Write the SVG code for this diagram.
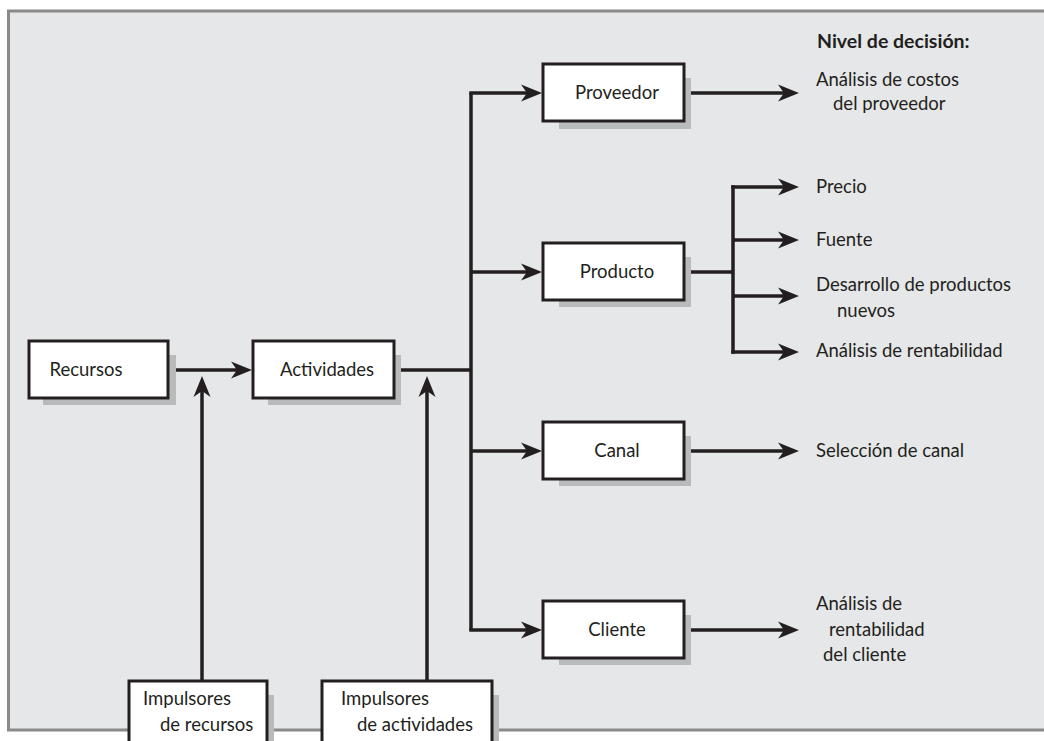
<svg xmlns="http://www.w3.org/2000/svg" width="1044" height="741" viewBox="0 0 1044 741">
<defs>
<style>
.bg{fill:#e6e7e8;stroke:#8a8a8a;stroke-width:3}
.box{fill:#ffffff;stroke:#231f20;stroke-width:3}
.sh{fill:#b9babc}
.ln{fill:none;stroke:#231f20;stroke-width:3.5;stroke-linecap:butt;stroke-linejoin:miter}
.t{font-family:Lato,"Open Sans","Liberation Sans",sans-serif;font-size:18.5px;fill:#231f20}
.c{text-anchor:middle}
.b{font-weight:bold;font-size:19.5px}
</style>
<marker id="ah" markerUnits="userSpaceOnUse" markerWidth="24" markerHeight="20" viewBox="0 -10 24 20" refX="11" refY="0" orient="auto">
<path d="M0,-8.5 L21,0 L0,8.5 L6,0 Z" fill="#231f20"/>
</marker>
</defs>
<rect class="bg" x="8.5" y="11" width="1050" height="719"/>

<g id="connectors">
<path class="ln" d="M168,370 H242" marker-end="url(#ah)"/>
<path class="ln" d="M394,370 H471"/>
<path class="ln" d="M202,681 V386" marker-end="url(#ah)"/>
<path class="ln" d="M427,681 V386" marker-end="url(#ah)"/>
<path class="ln" d="M471,93 V630"/>
<path class="ln" d="M469.25,93 H532" marker-end="url(#ah)"/>
<path class="ln" d="M471,272 H532" marker-end="url(#ah)"/>
<path class="ln" d="M471,451 H532" marker-end="url(#ah)"/>
<path class="ln" d="M469.25,630 H532" marker-end="url(#ah)"/>
<path class="ln" d="M684,93 H789" marker-end="url(#ah)"/>
<path class="ln" d="M684,272 H733"/>
<path class="ln" d="M733,185.25 V353.75"/>
<path class="ln" d="M731.25,187 H789" marker-end="url(#ah)"/>
<path class="ln" d="M733,240 H789" marker-end="url(#ah)"/>
<path class="ln" d="M733,296 H789" marker-end="url(#ah)"/>
<path class="ln" d="M731.25,352 H789" marker-end="url(#ah)"/>
<path class="ln" d="M684,451 H789" marker-end="url(#ah)"/>
<path class="ln" d="M684,630 H789" marker-end="url(#ah)"/>
</g>

<g id="recursos">
<rect class="sh" x="43" y="355" width="133" height="50"/>
<rect class="box" x="29" y="341" width="139" height="57"/>
<text class="t c" x="86" y="376">Recursos</text>
</g>
<g id="actividades">
<rect class="sh" x="268" y="355" width="133" height="50"/>
<rect class="box" x="253" y="341" width="141" height="57"/>
<text class="t c" x="327" y="376">Actividades</text>
</g>
<g id="proveedor">
<rect class="sh" x="559" y="78" width="132" height="51"/>
<rect class="box" x="543" y="64" width="141" height="57"/>
<text class="t c" x="617" y="99">Proveedor</text>
</g>
<g id="producto">
<rect class="sh" x="559" y="257" width="132" height="50"/>
<rect class="box" x="543" y="243" width="141" height="57"/>
<text class="t c" x="617" y="278">Producto</text>
</g>
<g id="canal">
<rect class="sh" x="559" y="436" width="132" height="50"/>
<rect class="box" x="543" y="422" width="141" height="57"/>
<text class="t c" x="617" y="457">Canal</text>
</g>
<g id="cliente">
<rect class="sh" x="559" y="615" width="132" height="50"/>
<rect class="box" x="543" y="601" width="141" height="57"/>
<text class="t c" x="617" y="636">Cliente</text>
</g>
<g id="impulsores-recursos">
<rect class="sh" x="145" y="695" width="129" height="60"/>
<rect class="box" x="129" y="681" width="138" height="80"/>
<text class="t" x="143" y="705">Impulsores</text>
<text class="t" x="160" y="731">de recursos</text>
</g>
<g id="impulsores-actividades">
<rect class="sh" x="338" y="695" width="161" height="60"/>
<rect class="box" x="322" y="681" width="170" height="80"/>
<text class="t" x="341" y="705">Impulsores</text>
<text class="t" x="357" y="731">de actividades</text>
</g>

<g id="decision-labels">
<text class="t b" x="817" y="48">Nivel de decisión:</text>
<text class="t" x="816" y="86">Análisis de costos</text>
<text class="t" x="833" y="110">del proveedor</text>
<text class="t" x="816" y="193">Precio</text>
<text class="t" x="816" y="246">Fuente</text>
<text class="t" x="816" y="291">Desarrollo de productos</text>
<text class="t" x="837" y="317">nuevos</text>
<text class="t" x="816" y="357">Análisis de rentabilidad</text>
<text class="t" x="816" y="457">Selección de canal</text>
<text class="t" x="816" y="610">Análisis de</text>
<text class="t" x="829" y="636">rentabilidad</text>
<text class="t" x="823" y="661">del cliente</text>
</g>
</svg>
